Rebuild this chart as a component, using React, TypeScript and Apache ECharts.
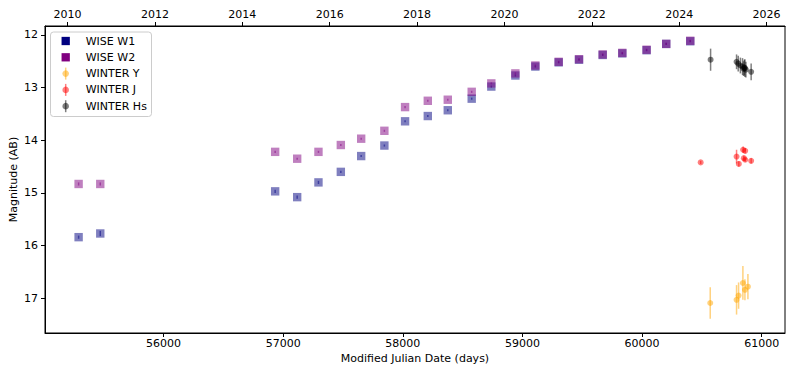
import React, { useEffect, useRef } from "react";
import * as echarts from "echarts";

// ---- data ----
const wiseMJD = [55290, 55471, 56933, 57117, 57295, 57482, 57652, 57846, 58019, 58209, 58376, 58576, 58740, 58941, 59108, 59303, 59473, 59671, 59835, 60038, 60202, 60403];
const w1Mag = [15.84, 15.77, 14.97, 15.08, 14.8, 14.6, 14.3, 14.1, 13.64, 13.54, 13.43, 13.21, 12.98, 12.77, 12.6, 12.52, 12.47, 12.38, 12.35, 12.29, 12.17, 12.12];
const w1Err = [0.03, 0.05, 0.03, 0.03, 0.03, 0.02, 0.02, 0.02, 0.02, 0.02, 0.02, 0.02, 0.02, 0.02, 0.02, 0.02, 0.02, 0.02, 0.02, 0.02, 0.02, 0.02];
const w2Mag = [14.83, 14.83, 14.22, 14.35, 14.22, 14.09, 13.97, 13.82, 13.37, 13.25, 13.23, 13.08, 12.92, 12.73, 12.58, 12.51, 12.46, 12.37, 12.34, 12.28, 12.17, 12.11];
const w2Err = [0.03, 0.03, 0.02, 0.02, 0.02, 0.02, 0.02, 0.02, 0.02, 0.02, 0.02, 0.02, 0.02, 0.02, 0.02, 0.02, 0.02, 0.02, 0.02, 0.02, 0.02, 0.02];

const yMJD = [60570, 60790, 60807, 60843, 60860, 60885];
const yMag = [17.09, 17.03, 16.95, 16.71, 16.84, 16.78];
const yErr = [0.3, 0.28, 0.25, 0.32, 0.2, 0.24];

const jMJD = [60490, 60790, 60809, 60845, 60862, 60851, 60862, 60912];
const jMag = [14.42, 14.31, 14.45, 14.18, 14.2, 14.34, 14.37, 14.39];
const jErr = [0.03, 0.13, 0.05, 0.06, 0.05, 0.05, 0.04, 0.05];

const hMJD = [60573, 60790, 60804, 60822, 60840, 60848, 60855, 60860, 60868, 60912];
const hMag = [12.47, 12.51, 12.545, 12.58, 12.6, 12.64, 12.62, 12.63, 12.66, 12.7];
const hErr = [0.21, 0.14, 0.15, 0.15, 0.16, 0.14, 0.15, 0.17, 0.15, 0.16];

const mjdTicks = [56000, 57000, 58000, 59000, 60000, 61000];
const yearTicks = [2010, 2012, 2014, 2016, 2018, 2020, 2022, 2024, 2026];
const magTicks = [12, 13, 14, 15, 16, 17];

const legendNames = ["WISE W1", "WISE W2", "WINTER Y", "WINTER J", "WINTER Hs"];

const FONT = "DejaVu Sans";
const X_MIN = 55009;
const X_MAX = 61195;
const Y_MIN = 11.83;
const Y_MAX = 17.66;

const yearToMJD = (y: number) => Math.round(51544.5 + (y - 2000) * 365.25);
const mjdToYear = (m: number) => Math.round(2000 + (m - 51544.5) / 365.25);

const colors = {
  w1: "rgba(0,0,128,0.5)",
  w2: "rgba(128,0,128,0.5)",
  y: "rgba(255,165,0,0.5)",
  j: "rgba(255,0,0,0.5)",
  h: "rgba(0,0,0,0.5)",
};

function makeSeries(name: string, xs: number[], ys: number[], es: number[], color: string, shape: "rect" | "circle") {
  return {
    type: "custom",
    name,
    xAxisIndex: 0,
    yAxisIndex: 0,
    data: xs.map((x, i) => [x, ys[i], es[i]]),
    encode: { x: 0, y: 1 },
    renderItem: (params: any, api: any) => {
      const x = api.value(0);
      const y = api.value(1);
      const e = api.value(2);
      const p = api.coord([x, y]);
      const p1 = api.coord([x, y - e]);
      const p2 = api.coord([x, y + e]);
      const children: any[] = [
        {
          type: "line",
          shape: { x1: p[0], y1: p1[1], x2: p[0], y2: p2[1] },
          style: { stroke: color, lineWidth: 1.5 },
        },
      ];
      if (shape === "rect") {
        children.push({
          type: "rect",
          shape: { x: p[0] - 4.2, y: p[1] - 4.2, width: 8.4, height: 8.4 },
          style: { fill: color },
        });
      } else {
        children.push({
          type: "circle",
          shape: { cx: p[0], cy: p[1], r: 3 },
          style: { fill: color },
        });
      }
      return { type: "group", children };
    },
  };
}

function legendGraphic() {
  const els: any[] = [];
  els.push({
    type: "rect",
    shape: { x: 50.5, y: 32, width: 101, height: 84.5, r: 3 },
    style: { fill: "rgba(255,255,255,0.8)", stroke: "#cccccc", lineWidth: 1 },
    z: 100,
  });
  const solid = ["#000080", "#800080"];
  const ebar = [colors.y, colors.j, colors.h];
  legendNames.forEach((name, i) => {
    const cy = 41 + 16.3 * i;
    const cx = 65.7;
    if (i < 2) {
      els.push({
        type: "rect",
        shape: { x: cx - 4.15, y: cy - 4.15, width: 8.3, height: 8.3 },
        style: { fill: solid[i] },
        z: 101,
      });
    } else {
      const c = ebar[i - 2];
      els.push({
        type: "line",
        shape: { x1: cx, y1: cy - 6, x2: cx, y2: cy + 6 },
        style: { stroke: c, lineWidth: 1.5 },
        z: 101,
      });
      els.push({
        type: "circle",
        shape: { cx, cy, r: 3.3 },
        style: { fill: c },
        z: 101,
      });
    }
    els.push({
      type: "text",
      x: 85.7,
      y: cy,
      style: {
        text: name,
        fill: "#000",
        font: `11px "${FONT}"`,
        verticalAlign: "middle",
        align: "left",
      },
      z: 101,
    });
  });
  return els;
}

export default function App() {
  const ref = useRef<HTMLDivElement>(null);
  useEffect(() => {
    if (!ref.current) return;
    const chart = echarts.init(ref.current, null, { renderer: "svg" });
    const axisCommon = {
      axisLine: { show: true, onZero: false, lineStyle: { color: "#000", width: 1 } },
      splitLine: { show: false },
    };
    const labelStyle = { color: "#000", fontSize: 11, fontFamily: FONT };
    const yearMJD = yearTicks.map(yearToMJD);
    chart.setOption({
      animation: false,
      backgroundColor: "#fff",
      grid: {
        left: 45,
        right: 8,
        top: 26,
        bottom: 42,
        containLabel: false,
        outerBoundsMode: "none",
        show: true,
        borderColor: "#000",
        borderWidth: 1,
        backgroundColor: "transparent",
      },
      xAxis: [
        {
          type: "value",
          position: "bottom",
          min: X_MIN,
          max: X_MAX,
          ...axisCommon,
          axisTick: { show: true, inside: false, length: 4, customValues: mjdTicks, lineStyle: { color: "#000" } },
          axisLabel: { ...labelStyle, margin: 5, customValues: mjdTicks, formatter: (v: number) => String(v) },
          name: "Modified Julian Date (days)",
          nameLocation: "middle",
          nameGap: 20,
          nameMoveOverlap: false,
          nameTextStyle: labelStyle,
        },
        {
          type: "value",
          position: "top",
          min: X_MIN,
          max: X_MAX,
          ...axisCommon,
          axisTick: { show: true, inside: false, length: 4, customValues: yearMJD, lineStyle: { color: "#000" } },
          axisLabel: { ...labelStyle, margin: 6, customValues: yearMJD, formatter: (v: number) => String(mjdToYear(v)) },
        },
      ],
      yAxis: {
        type: "value",
        inverse: true,
        min: Y_MIN,
        max: Y_MAX,
        ...axisCommon,
        axisTick: { show: true, inside: false, length: 4, customValues: magTicks, lineStyle: { color: "#000" } },
        axisLabel: { ...labelStyle, margin: 7, customValues: magTicks, formatter: (v: number) => String(v) },
        name: "Magnitude (AB)",
        nameLocation: "middle",
        nameGap: 26,
        nameMoveOverlap: false,
        nameTextStyle: labelStyle,
      },
      series: [
        makeSeries("WISE W1", wiseMJD, w1Mag, w1Err, colors.w1, "rect"),
        makeSeries("WISE W2", wiseMJD, w2Mag, w2Err, colors.w2, "rect"),
        makeSeries("WINTER Y", yMJD, yMag, yErr, colors.y, "circle"),
        makeSeries("WINTER J", jMJD, jMag, jErr, colors.j, "circle"),
        makeSeries("WINTER Hs", hMJD, hMag, hErr, colors.h, "circle"),
      ],
      graphic: legendGraphic(),
    });
    return () => chart.dispose();
  }, []);
  return (
    <div
      ref={ref}
      style={{ position: "fixed", left: 0, top: 0, width: 793, height: 375 }}
    />
  );
}
